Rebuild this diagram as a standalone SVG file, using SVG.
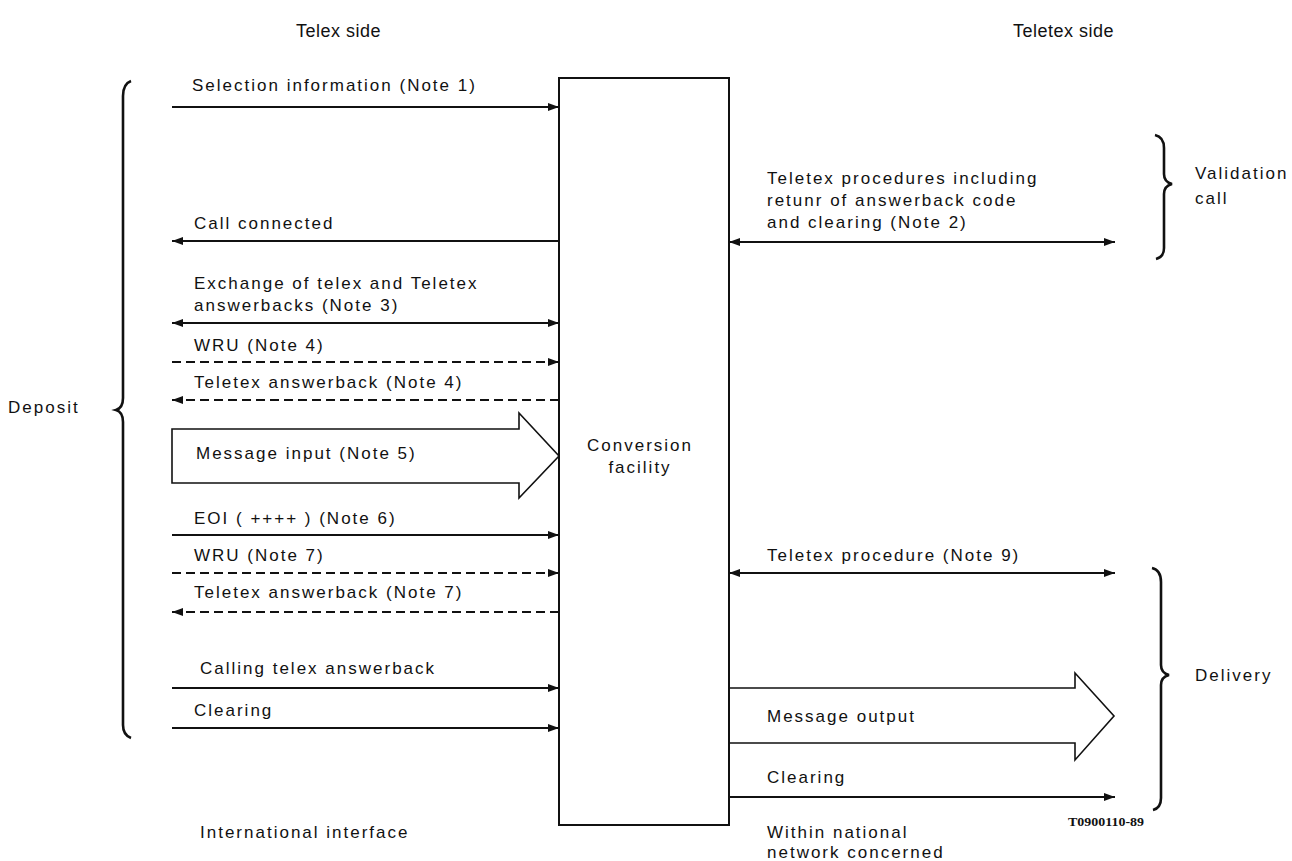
<svg xmlns="http://www.w3.org/2000/svg" width="1292" height="861" viewBox="0 0 1292 861">
<style>
text{font-family:"Liberation Sans",Arial,sans-serif;font-size:17px;letter-spacing:2px;fill:#111}
.hdr{font-size:18px;letter-spacing:0.5px}
.code{font-family:"Liberation Serif",serif;font-size:12px;font-weight:bold;letter-spacing:0}
.ln{stroke:#111;stroke-width:2;fill:none}
.dash{stroke:#111;stroke-width:2;fill:none;stroke-dasharray:9 5}
.big{stroke:#111;stroke-width:1.6;fill:none}
.brace{stroke:#111;stroke-width:2.6;fill:none}
</style>
<defs>
<marker id="ah" viewBox="0 0 11 8" refX="11" refY="4" markerWidth="11" markerHeight="8" markerUnits="userSpaceOnUse" orient="auto-start-reverse">
<path d="M0,0 L11,4 L0,8 z" fill="#111"/>
</marker>
</defs>
<text class="hdr" x="296" y="37">Telex side</text>
<text class="hdr" x="1013" y="37">Teletex side</text>
<g id="box">
<rect x="559" y="78" width="170" height="747" fill="none" stroke="#111" stroke-width="2"/>
<text x="640" y="451" text-anchor="middle">Conversion</text>
<text x="640" y="473" text-anchor="middle">facility</text>
</g>
<g id="deposit">
<path class="brace" d="M131,81 Q123,84 123,96 L123,398 Q123,408 116,410 Q123,412 123,422 L123,725 Q123,735 131,738"/>
<text x="8" y="413">Deposit</text>
</g>
<g id="validation">
<path class="brace" d="M1155,135 Q1164,137 1164,148 L1164,174 Q1164,182 1172,184 Q1164,186 1164,194 L1164,248 Q1164,257 1156,259"/>
<text x="1195" y="179">Validation</text>
<text x="1195" y="204">call</text>
</g>
<g id="delivery">
<path class="brace" d="M1152,568 Q1161,570 1161,582 L1161,665 Q1161,673 1169,675 Q1161,677 1161,685 L1161,798 Q1161,808 1153,810"/>
<text x="1195" y="681">Delivery</text>
</g>
<g id="connectors">
<line class="ln" x1="172" y1="107" x2="559" y2="107" marker-end="url(#ah)"/>
<line class="ln" x1="559" y1="241" x2="172" y2="241" marker-end="url(#ah)"/>
<line class="ln" x1="172" y1="323" x2="559" y2="323" marker-start="url(#ah)" marker-end="url(#ah)"/>
<line class="dash" x1="172" y1="362" x2="559" y2="362" marker-end="url(#ah)"/>
<line class="dash" x1="559" y1="400" x2="172" y2="400" marker-end="url(#ah)"/>
<path class="big" d="M172,429 L519,429 L519,413 L559,456 L519,498 L519,483 L172,483 Z"/>
<line class="ln" x1="172" y1="535" x2="559" y2="535" marker-end="url(#ah)"/>
<line class="dash" x1="172" y1="573" x2="559" y2="573" marker-end="url(#ah)"/>
<line class="dash" x1="559" y1="612" x2="172" y2="612" marker-end="url(#ah)"/>
<line class="ln" x1="172" y1="688" x2="559" y2="688" marker-end="url(#ah)"/>
<line class="ln" x1="172" y1="728" x2="559" y2="728" marker-end="url(#ah)"/>
<line class="ln" x1="729" y1="242" x2="1115" y2="242" marker-start="url(#ah)" marker-end="url(#ah)"/>
<line class="ln" x1="729" y1="573" x2="1115" y2="573" marker-start="url(#ah)" marker-end="url(#ah)"/>
<path class="big" d="M729,688 L1075,688 L1075,673 L1114,716 L1075,760 L1075,743 L729,743"/>
<line class="ln" x1="729" y1="797" x2="1115" y2="797" marker-end="url(#ah)"/>
</g>
<g id="labels">
<text x="192" y="91">Selection information (Note 1)</text>
<text x="194" y="229">Call connected</text>
<text x="194" y="289">Exchange of telex and Teletex</text>
<text x="194" y="311">answerbacks (Note 3)</text>
<text x="194" y="351">WRU (Note 4)</text>
<text x="194" y="388">Teletex answerback (Note 4)</text>
<text x="196" y="459">Message input (Note 5)</text>
<text x="194" y="524">EOI ( ++++ ) (Note 6)</text>
<text x="194" y="561">WRU (Note 7)</text>
<text x="194" y="598">Teletex answerback (Note 7)</text>
<text x="200" y="674">Calling telex answerback</text>
<text x="194" y="716">Clearing</text>
<text x="200" y="838">International interface</text>
<text x="767" y="184">Teletex procedures including</text>
<text x="767" y="206">retunr of answerback code</text>
<text x="767" y="228">and clearing (Note 2)</text>
<text x="767" y="561">Teletex procedure (Note 9)</text>
<text x="767" y="722">Message output</text>
<text x="767" y="783">Clearing</text>
<text x="767" y="838">Within national</text>
<text x="767" y="858">network concerned</text>
<text class="code" x="1068" y="826" textLength="76" lengthAdjust="spacingAndGlyphs">T0900110-89</text>
</g>
</svg>
